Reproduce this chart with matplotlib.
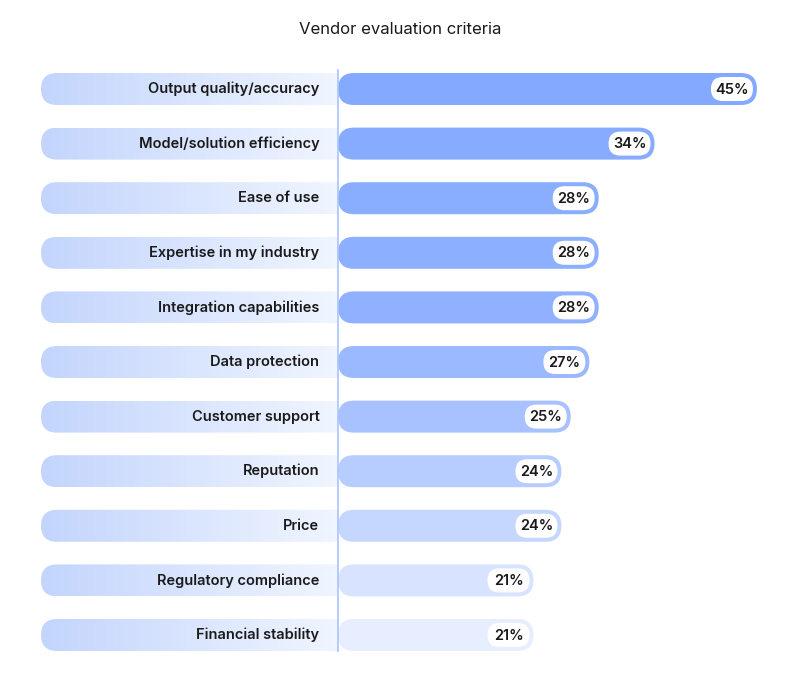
import matplotlib
matplotlib.use('Agg')
import matplotlib.pyplot as plt
import numpy as np
from matplotlib.patches import FancyBboxPatch
from matplotlib.colors import LinearSegmentedColormap, to_rgb

criteria = ['Output quality/accuracy', 'Model/solution efficiency', 'Ease of use',
            'Expertise in my industry', 'Integration capabilities', 'Data protection',
            'Customer support', 'Reputation', 'Price', 'Regulatory compliance',
            'Financial stability']
shares = [45, 34, 28, 28, 28, 27, 25, 24, 24, 21, 21]
bar_colors = ['#84aaff', '#87acff', '#89adff', '#8cafff', '#8fb1ff', '#9ab9ff',
              '#a8c2ff', '#b7ccff', '#c6d7ff', '#d8e4ff', '#e6eeff']

px_x = 9.31   # pixels per percent
px_y = 54.6   # pixels per row
x0 = 338      # pixel of the zero line
y0 = 89       # pixel of first row centre

plt.rcParams['font.family'] = 'Inter'
fig = plt.figure(figsize=(8, 6.8), dpi=100)
ax = fig.add_axes([0, 0, 1, 1])
ax.set_xlim(-x0 / px_x, (800 - x0) / px_x)
ax.set_ylim((680 - y0) / px_y, -y0 / px_y)
ax.axis('off')

bh = 32 / px_y
rx = 16 / px_x
asp = (16 / px_y) / rx

label_left = (41 - x0) / px_x
cmap = LinearSegmentedColormap.from_list('lab', ['#c3d5fd', '#f0f5ff'])
grad = np.linspace(0, 1, 256).reshape(1, -1)

for i, (name, val, col) in enumerate(zip(criteria, shares, bar_colors)):
    # label pill with gradient
    pill = FancyBboxPatch((label_left, i - bh / 2), 1.5 * (0 - label_left), bh,
                          boxstyle=f'round,pad=0,rounding_size={rx}',
                          mutation_aspect=asp, fc='none', ec='none')
    ax.add_patch(pill)
    im = ax.imshow(grad, cmap=cmap, aspect='auto',
                   extent=[label_left, 0, i + bh / 2, i - bh / 2], zorder=1)
    im.set_clip_path(pill)
    ax.text(-2.0, i, name, ha='right', va='center', fontsize=10.5,
            fontweight='semibold', color='#1a1a1a', zorder=5)
    # value bar
    ax.add_patch(FancyBboxPatch((0, i - bh / 2), val, bh,
                                boxstyle=f'round,pad=0,rounding_size={rx}',
                                mutation_aspect=asp, fc=col, ec='none', zorder=2))
    # badge
    bw = 42 / px_x
    bhh = 24 / px_y
    right = val - 4 / px_x
    ax.add_patch(FancyBboxPatch((right - bw, i - bhh / 2), bw, bhh,
                                boxstyle=f'round,pad=0,rounding_size={12 / px_x}',
                                mutation_aspect=(12 / px_y) / (12 / px_x),
                                fc='white', ec='none', zorder=3))
    ax.text(right - bw / 2, i + 0.01, f'{val}%', ha='center', va='center',
            fontsize=10.5, fontweight='semibold', color='#1a1a1a', zorder=5)

ax.plot([0, 0], [-bh / 2 - 0.05, len(criteria) - 1 + bh / 2], color='#a9c3fb',
        lw=1.2, zorder=4)

fig.text(0.5, 1 - 30 / 680, 'Vendor evaluation criteria', ha='center', va='center',
         fontsize=12, color='#1a1a1a')

fig.savefig('out.png', dpi=100)
